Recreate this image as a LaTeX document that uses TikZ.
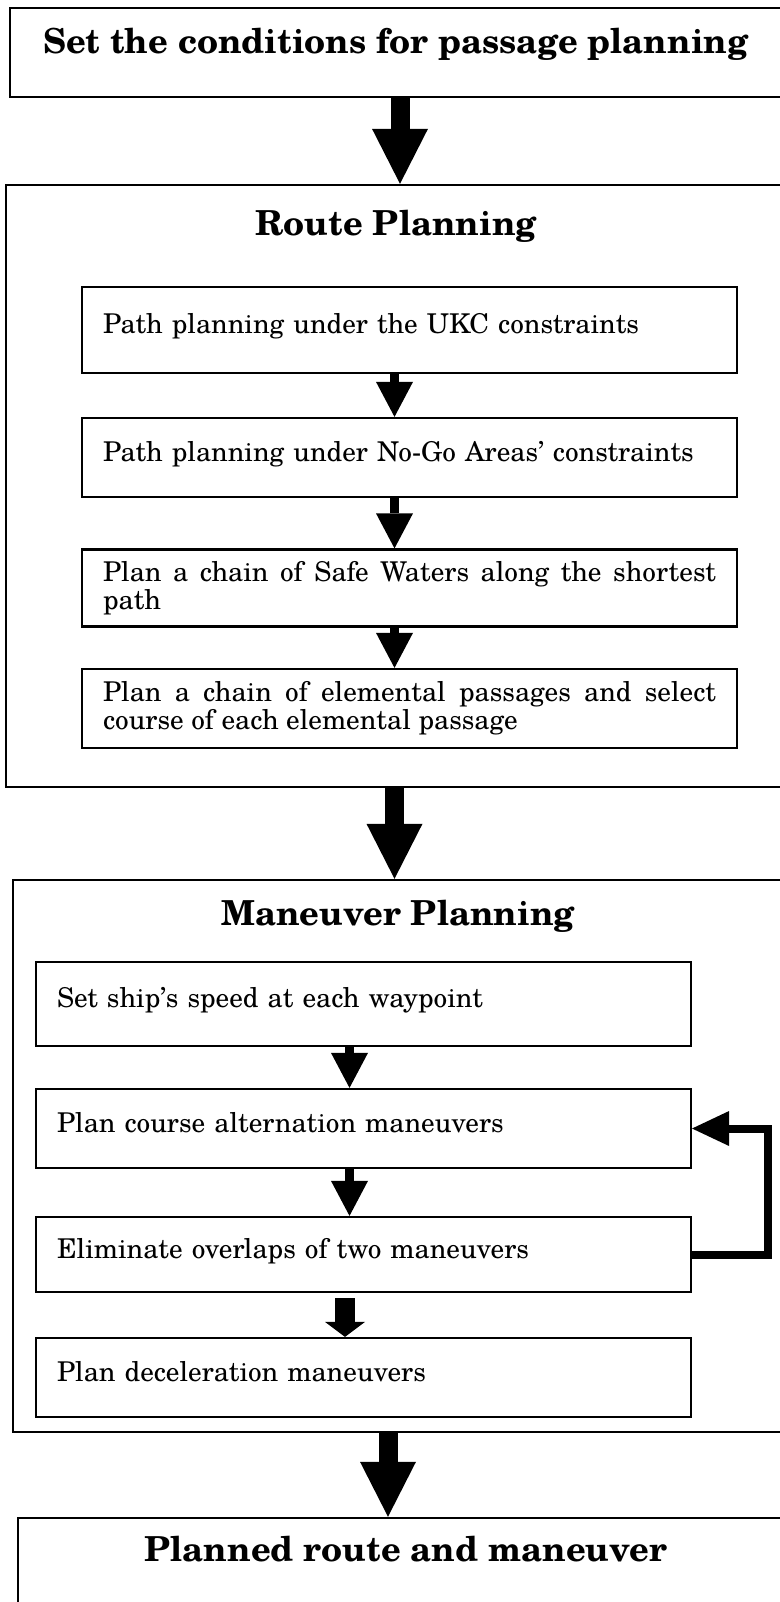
\documentclass[tikz,border=0pt]{standalone}
\usepackage{fontspec}
\setmainfont{texgyreschola}[
  Extension=.otf,
  UprightFont=*-regular,
  BoldFont=*-bold,
  ItalicFont=*-italic,
  BoldItalicFont=*-bolditalic]
\usetikzlibrary{arrows.meta}

\begin{document}
\begin{tikzpicture}[
  x=0.02cm, y=-0.02cm,
  outerbox/.style={
    draw=black,
    line width=0.05cm,
    inner sep=0pt
  },
  titletext/.style={
    font=\fontsize{19.6}{23}\selectfont\bfseries,
    inner sep=0pt,
    text height=14.1pt,
    text depth=4.3pt
  },
  taskbox/.style={
    draw=black,
    line width=0.045cm,
    align=left,
    inner xsep=0.42cm,
    inner ysep=0pt,
    text width=12.26cm,
    font=\fontsize{15.5}{15.8}\selectfont
  },
  onerow/.style={
    text height=11.2pt,
    text depth=6.8pt
  },
  tworow/.style={
    align=justify
  },
  bigarrow/.style={
    line width=0.38cm,
    -{Triangle[width=1.12cm, length=1.1cm, line width=0pt]}
  },
  smallarrow/.style={
    line width=0.18cm,
    -{Triangle[width=0.74cm, length=0.7cm, line width=0pt]}
  },
  stubarrow/.style={
    line width=0.4cm,
    -{Triangle[width=0.8cm, length=0.3cm, line width=0pt]}
  },
  loopline/.style={
    line width=0.16cm,
    -{Triangle[width=0.7cm, length=0.74cm, line width=0pt]}
  }
]
\useasboundingbox (0,0) rectangle (779,1602);

% Arrow columns
\coordinate (axisT) at (400,0);
\coordinate (axisR) at (394.5,0);
\coordinate (axisM) at (349.5,0);
\coordinate (axisS) at (345,0);
\coordinate (axisB) at (388,0);

% Top box
\node[outerbox, minimum width=15.42cm, minimum height=1.78cm] (top) at (395.5,52.5) {};
\node[titletext] (toptext) at (396,45) {Set the conditions for passage planning};

% Route planning
\node[outerbox, minimum width=15.5cm, minimum height=12.04cm] (route) at (393.5,486) {};
\node[titletext] (routetitle) at (396,227) {Route Planning};

\node[taskbox, onerow, minimum height=1.72cm] (ukc) at (409.5,330)
{Path planning under the UKC constraints};
\node[taskbox, onerow, minimum height=1.58cm] (nogo) at (409.5,457.5)
{Path planning under No-Go Areas’ constraints};
\node[taskbox, tworow, minimum height=1.54cm] (safe) at (409.5,588)
{Plan a chain of Safe Waters along the shortest path};
\node[taskbox, tworow, minimum height=1.58cm] (elem) at (409.5,708.5)
{Plan a chain of elemental passages and select\linebreak course of each elemental passage};

% Maneuver planning
\node[outerbox, minimum width=15.36cm, minimum height=11.04cm] (maneuver) at (397,1156) {};
\node[titletext] (maneuvertitle) at (398,917) {Maneuver Planning};

\node[taskbox, onerow, minimum height=1.68cm] (speed) at (363.5,1004)
{Set ship’s speed at each waypoint};
\node[taskbox, onerow, minimum height=1.58cm] (course) at (363.5,1128.5)
{Plan course alternation maneuvers};
\node[taskbox, onerow, minimum height=1.5cm] (overlap) at (363.5,1254.5)
{Eliminate overlaps of two maneuvers};
\node[taskbox, onerow, minimum height=1.58cm] (decel) at (363.5,1377.5)
{Plan deceleration maneuvers};

% Result box
\node[outerbox, minimum width=15.26cm, minimum height=2.64cm] (planned) at (399.5,1584) {};
\node[titletext] (plannedtext) at (406,1553) {Planned route and maneuver};

% Main flow
\draw[bigarrow] (top.south -| axisT) -- (route.north -| axisT);
\draw[bigarrow] (route.south -| axisR) -- (maneuver.north -| axisR);
\draw[bigarrow] (maneuver.south -| axisB) -- (planned.north -| axisB);

% Route steps
\draw[smallarrow] (ukc.south -| axisR) -- (nogo.north -| axisR);
\draw[smallarrow] (nogo.south -| axisR) -- (safe.north -| axisR);
\draw[smallarrow] (safe.south -| axisR) -- (elem.north -| axisR);

% Maneuver steps
\draw[smallarrow] (speed.south -| axisM) -- (course.north -| axisM);
\draw[smallarrow] (course.south -| axisM) -- (overlap.north -| axisM);
\draw[stubarrow, shorten <=0.1cm] (overlap.south -| axisS) -- (decel.north -| axisS);

% Feedback loop
\draw[loopline] (overlap.east) -- ++(76,0) |- (course.east);

\end{tikzpicture}
\end{document}
